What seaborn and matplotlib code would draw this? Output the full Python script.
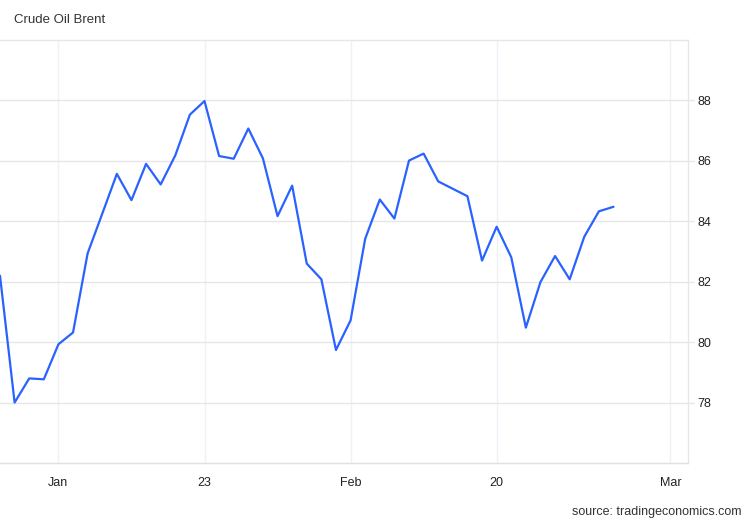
import pandas as pd
import matplotlib.pyplot as plt
import seaborn as sns

# Brent price, one value per plotted session (position 31 has no value)
day = [0, 1, 2, 3, 4, 5, 6, 7, 8, 9, 10, 11, 12, 13, 14, 15, 16, 17, 18, 19, 20,
       21, 22, 23, 24, 25, 26, 27, 28, 29, 30, 32, 33, 34, 35, 36, 37, 38, 39,
       40, 41, 42]
price = [82.2, 78.0, 78.8, 78.77, 79.93, 80.32, 82.94, 84.25, 85.57, 84.70,
         85.90, 85.22, 86.18, 87.53, 87.98, 86.16, 86.07, 87.07, 86.08, 84.17,
         85.18, 82.60, 82.08, 79.74, 80.72, 83.42, 84.72, 84.09, 86.01, 86.24,
         85.32, 84.83, 82.70, 83.82, 82.81, 80.48, 81.99, 82.85, 82.08, 83.49,
         84.33, 84.48]

xtick_pos = [4, 14, 24, 34, 45.9]
xtick_labels = ["Jan", "23", "Feb", "20", "Mar"]
ytick_pos = [78, 80, 82, 84, 86, 88]

df = pd.DataFrame({"day": day, "price": price})

sns.set_theme(style="white")
plt.rcParams['font.family'] = ['Liberation Sans', 'DejaVu Sans']

fig = plt.figure(figsize=(7.5, 5.2), dpi=100)
ax = fig.add_axes([0, 1 - 463 / 520, 688 / 750, (463 - 40) / 520])

sns.lineplot(data=df, x="day", y="price", ax=ax, color="#2962ff", linewidth=1.6)

ax.set_xlim(0, 47.1)
ax.set_ylim(76, 90)
ax.set_xlabel("")
ax.set_ylabel("")

ax.set_xticks(xtick_pos)
ax.set_xticklabels(xtick_labels)
ax.set_yticks(ytick_pos)
ax.set_yticklabels([str(v) for v in ytick_pos])

ax.yaxis.tick_right()
ax.tick_params(axis="y", length=4, width=1, color="#e6e6e6", pad=3,
               labelsize=9, labelcolor="#222222")
ax.tick_params(axis="x", length=0, pad=10, labelsize=9, labelcolor="#222222")

ax.grid(axis="y", color="#e6e6e6", linewidth=1)
ax.grid(axis="x", color="#eef1f5", linewidth=1)
ax.set_axisbelow(True)

ax.spines["left"].set_visible(False)
ax.spines["top"].set_color("#e6e6e6")
ax.spines["right"].set_color("#e6e6e6")
ax.spines["bottom"].set_color("#e0e0e0")
for s in ["top", "right", "bottom"]:
    ax.spines[s].set_linewidth(1)

fig.text(14 / 750, 1 - 20 / 520, "Crude Oil Brent", fontsize=9.5,
         color="#333333", va="center", ha="left")
fig.text(742 / 750, 1 - 512 / 520, "source: tradingeconomics.com", fontsize=9,
         color="#333333", va="center", ha="right")

fig.savefig("out.png", dpi=100, facecolor="white")
